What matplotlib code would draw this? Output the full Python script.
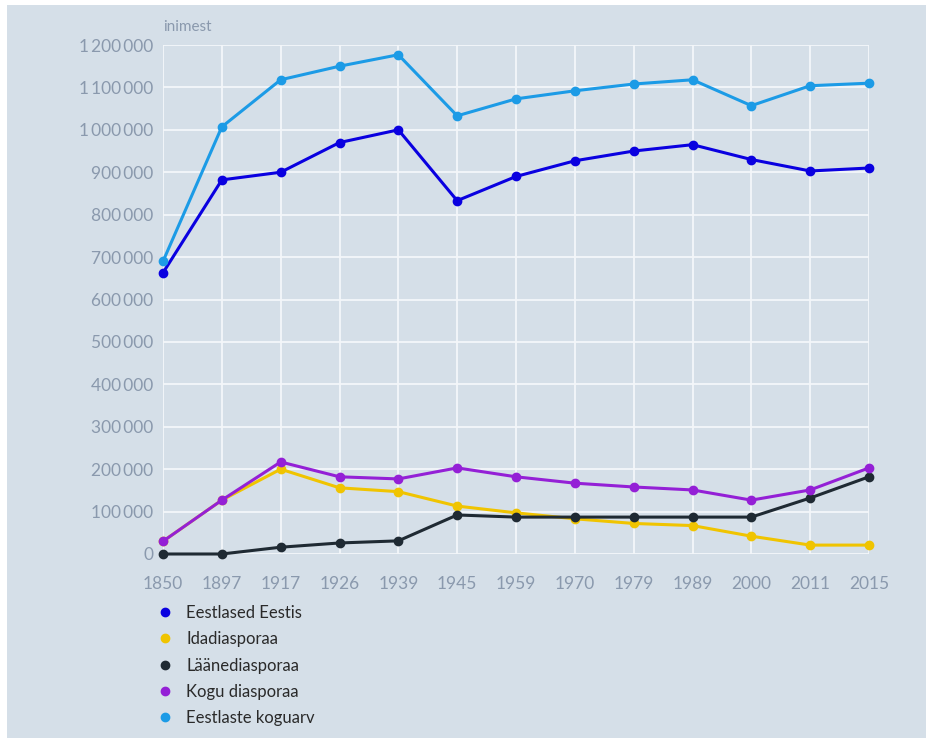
import matplotlib
matplotlib.use("Agg")
import matplotlib.pyplot as plt
from matplotlib.lines import Line2D
from matplotlib.patches import Rectangle
from matplotlib.ticker import FuncFormatter

years = ["1850", "1897", "1917", "1926", "1939", "1945", "1959", "1970", "1979", "1989", "2000", "2011", "2015"]
eestlased_eestis = [663000, 882000, 900000, 970000, 1000000, 833000, 890000, 927000, 950000, 965000, 930000, 903000, 910000]
idadiasporaa = [30000, 127000, 200000, 156000, 147000, 113000, 97000, 83000, 72000, 67000, 42000, 21000, 21000]
laanediasporaa = [0, 0, 16000, 26000, 31000, 92000, 87000, 87000, 87000, 87000, 87000, 132000, 182000]
kogu_diasporaa = [30000, 127000, 217000, 182000, 177000, 203000, 182000, 167000, 158000, 151000, 127000, 151000, 203000]
koguarv = [690000, 1007000, 1118000, 1150000, 1177000, 1033000, 1073000, 1092000, 1108000, 1118000, 1057000, 1104000, 1110000]

series_names = ["Eestlased Eestis", "Idadiasporaa", "Läänediasporaa", "Kogu diasporaa", "Eestlaste koguarv"]
series_values = [eestlased_eestis, idadiasporaa, laanediasporaa, kogu_diasporaa, koguarv]
colors = ["#0a00e0", "#f0c400", "#1f2a33", "#9420d6", "#1c9be6"]

plt.rcParams['font.family'] = ['Lato', 'DejaVu Sans']
bg = "#d5dfe8"
tick_col = "#8a99ad"

W, H = 926, 742
fig = plt.figure(figsize=(W / 100, H / 100), dpi=100, facecolor="white")
fig.patches.append(Rectangle((7 / W, 4 / H), 1.05, 1 - 9 / H, transform=fig.transFigure,
                             facecolor=bg, edgecolor='none', zorder=-10))

x0, x1, ytop, ybot = 163, 869, 45, 554
ax = fig.add_axes([x0 / W, 1 - ybot / H, (x1 - x0) / W, (ybot - ytop) / H], facecolor=bg)

xs = list(range(len(years)))
for name, vals, c in zip(series_names, series_values, colors):
    ax.plot(xs, vals, color=c, lw=2.2, marker='o', markersize=6, clip_on=False, zorder=3, label=name)

ax.set_xlim(0, len(years) - 1)
ax.set_ylim(0, 1200000)
ax.set_xticks(xs)
ax.set_xticklabels(years)
ax.set_yticks(range(0, 1200001, 100000))
ax.yaxis.set_major_formatter(FuncFormatter(lambda v, p: f"{int(v):,}".replace(",", "\u2009")))
ax.grid(True, color="#f4f7fa", lw=1.3, zorder=0)
ax.set_axisbelow(True)
for s in ax.spines.values():
    s.set_visible(False)
ax.tick_params(axis='both', length=0, colors=tick_col, labelsize=12.5)
ax.tick_params(axis='x', pad=16)
ax.tick_params(axis='y', pad=7)

fig.text(x0 / W, 1 - 27 / H, "inimest", color=tick_col, fontsize=11, ha='left', va='center')

handles = [Line2D([], [], marker='o', ls='', color=c, markersize=6) for c in colors]
leg = fig.legend(handles, series_names, loc='upper left', bbox_to_anchor=(157 / W, 1 - 605 / H),
                 frameon=False, fontsize=12, labelspacing=0.62, handlelength=1.0,
                 handletextpad=0.75, borderpad=0, borderaxespad=0)
for t in leg.get_texts():
    t.set_color("#2a2a2a")

fig.savefig("out.png", dpi=100, facecolor="white")
